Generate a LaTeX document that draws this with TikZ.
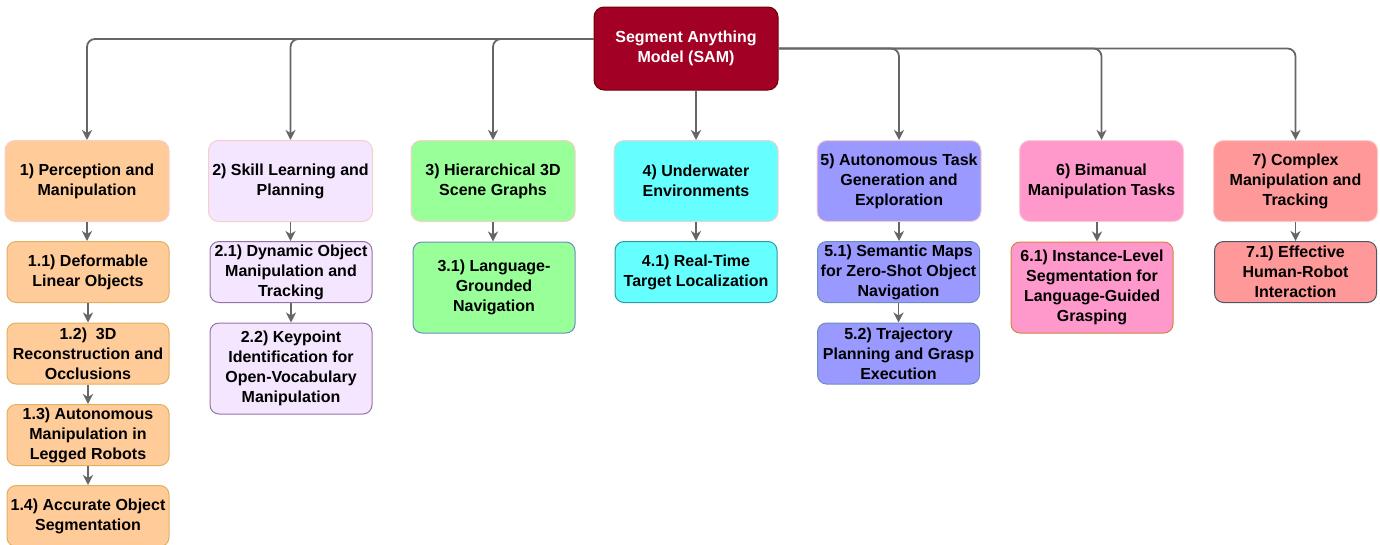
\documentclass[tikz,border=0pt]{standalone}
\usepackage{fontspec}
\setmainfont{Liberation Sans}
\usetikzlibrary{arrows.meta}

\definecolor{samred}{HTML}{A20025}
\definecolor{samedge}{HTML}{6F0000}
\definecolor{headedge}{HTML}{F8CECC}
\definecolor{arrowgray}{HTML}{666666}
\definecolor{percfill}{HTML}{FFCC99}
\definecolor{percedge}{HTML}{E0B060}
\definecolor{skillfill}{HTML}{F4E6FE}
\definecolor{skilledge}{HTML}{9673A6}
\definecolor{scenefill}{HTML}{99FF99}
\definecolor{sceneedge}{HTML}{6C8EBF}
\definecolor{waterfill}{HTML}{66FFFF}
\definecolor{wateredge}{HTML}{2A9BA3}
\definecolor{taskfill}{HTML}{9999FF}
\definecolor{taskedge}{HTML}{6C8EBF}
\definecolor{bimanfill}{HTML}{FF99CC}
\definecolor{bimanedge}{HTML}{D4843C}
\definecolor{cplxfill}{HTML}{FF9999}
\definecolor{cplxedge}{HTML}{4D5566}

\begin{document}
\begin{tikzpicture}[x=1pt, y=-1pt,
    every node/.style={font=\bfseries\fontsize{16}{20}\selectfont, align=center, inner sep=1pt},
    rootbox/.style={draw=samedge, fill=samred, text=white, rounded corners=10pt, line width=1pt, minimum width=184pt, minimum height=83pt},
    headbox/.style={draw=headedge, rounded corners=10pt, line width=1pt, minimum width=164pt, minimum height=81pt},
    subbox/.style={rounded corners=9pt, line width=1pt, minimum width=162pt, minimum height=61pt},
    tallbox/.style={subbox, minimum height=91pt},
    arr/.style={draw=arrowgray, line width=1.8pt, -{Stealth[length=10pt, width=10pt, inset=3pt]}}]

        \useasboundingbox (0,0) rectangle (1380,544);

        % Root
        \node[rootbox] (sam) at (686,48.5) {Segment Anything\\Model (SAM)};

        % Main areas
        \node[headbox, fill=percfill] (h1) at (87,181) {1) Perception and\\Manipulation};
        \node[headbox, fill=skillfill] (h2) at (290.5,181) {2) Skill Learning and\\Planning};
        \node[headbox, fill=scenefill] (h3) at (493,181) {3) Hierarchical 3D\\Scene Graphs};
        \node[headbox, fill=waterfill] (h4) at (696,181) {4) Underwater\\Environments};
        \node[headbox, fill=taskfill] (h5) at (899,181) {5) Autonomous Task\\Generation and\\Exploration};
        \node[headbox, fill=bimanfill] (h6) at (1101.5,181) {6) Bimanual\\Manipulation Tasks};
        \node[headbox, fill=cplxfill] (h7) at (1295.5,181) {7) Complex\\Manipulation and\\Tracking};

        % Sub topics
        \node[subbox, draw=percedge, fill=percfill] (c11) at (88,272) {1.1) Deformable\\Linear Objects};
        \node[subbox, draw=percedge, fill=percfill] (c12) at (88,353.5) {1.2)~~3D\hspace{2em}\\Reconstruction and\\Occlusions};
        \node[subbox, draw=percedge, fill=percfill] (c13) at (88,435) {1.3) Autonomous\\Manipulation in\\Legged Robots};
        \node[subbox, draw=percedge, fill=percfill] (c14) at (88,516) {1.4) Accurate Object\\Segmentation};

        \node[subbox, draw=skilledge, fill=skillfill] (c21) at (291,272) {2.1) Dynamic Object\\Manipulation and\\Tracking};
        \node[tallbox, draw=skilledge, fill=skillfill] (c22) at (291,368.5) {2.2) Keypoint\\Identification for\\Open-Vocabulary\\Manipulation};

        \node[tallbox, draw=sceneedge, fill=scenefill] (c31) at (494,287.5) {3.1) Language-\\Grounded\\Navigation};

        \node[subbox, draw=wateredge, fill=waterfill] (c41) at (696,272) {4.1) Real-Time\\Target Localization};

        \node[subbox, draw=taskedge, fill=taskfill] (c51) at (898.5,272) {5.1) Semantic Maps\\for Zero-Shot Object\\Navigation};
        \node[subbox, draw=taskedge, fill=taskfill] (c52) at (898.5,353.5) {5.2) Trajectory\\Planning and Grasp\\Execution};

        \node[tallbox, draw=bimanedge, fill=bimanfill] (c61) at (1092,287.5) {6.1) Instance-Level\\Segmentation for\\Language-Guided\\Grasping};

        \node[subbox, draw=cplxedge, fill=cplxfill] (c71) at (1295.5,272) {7.1) Effective\\Human-Robot\\Interaction};

        % Arrows from the root
        \foreach \h in {h1,h2,h3}
            \draw[arr, rounded corners=8pt] ([yshift=9.5pt]sam.west) -| (\h.north);
        \foreach \h in {h5,h6,h7}
            \draw[arr, rounded corners=8pt] (sam.east) -| (\h.north);
        \draw[arr] (h4.north |- sam.south) -- (h4.north);

        % Arrows down the columns
        \foreach \a/\b in {h1/c11, c11/c12, c12/c13, c13/c14, h2/c21, c21/c22,
                           h3/c31, h4/c41, h5/c51, c51/c52, h7/c71}
            \draw[arr] (\a.south) -- (\a.south |- \b.north);
        \draw[arr] ([xshift=-4.5pt]h6.south) -- ([xshift=-4.5pt]h6.south |- c61.north);

\end{tikzpicture}
\end{document}
